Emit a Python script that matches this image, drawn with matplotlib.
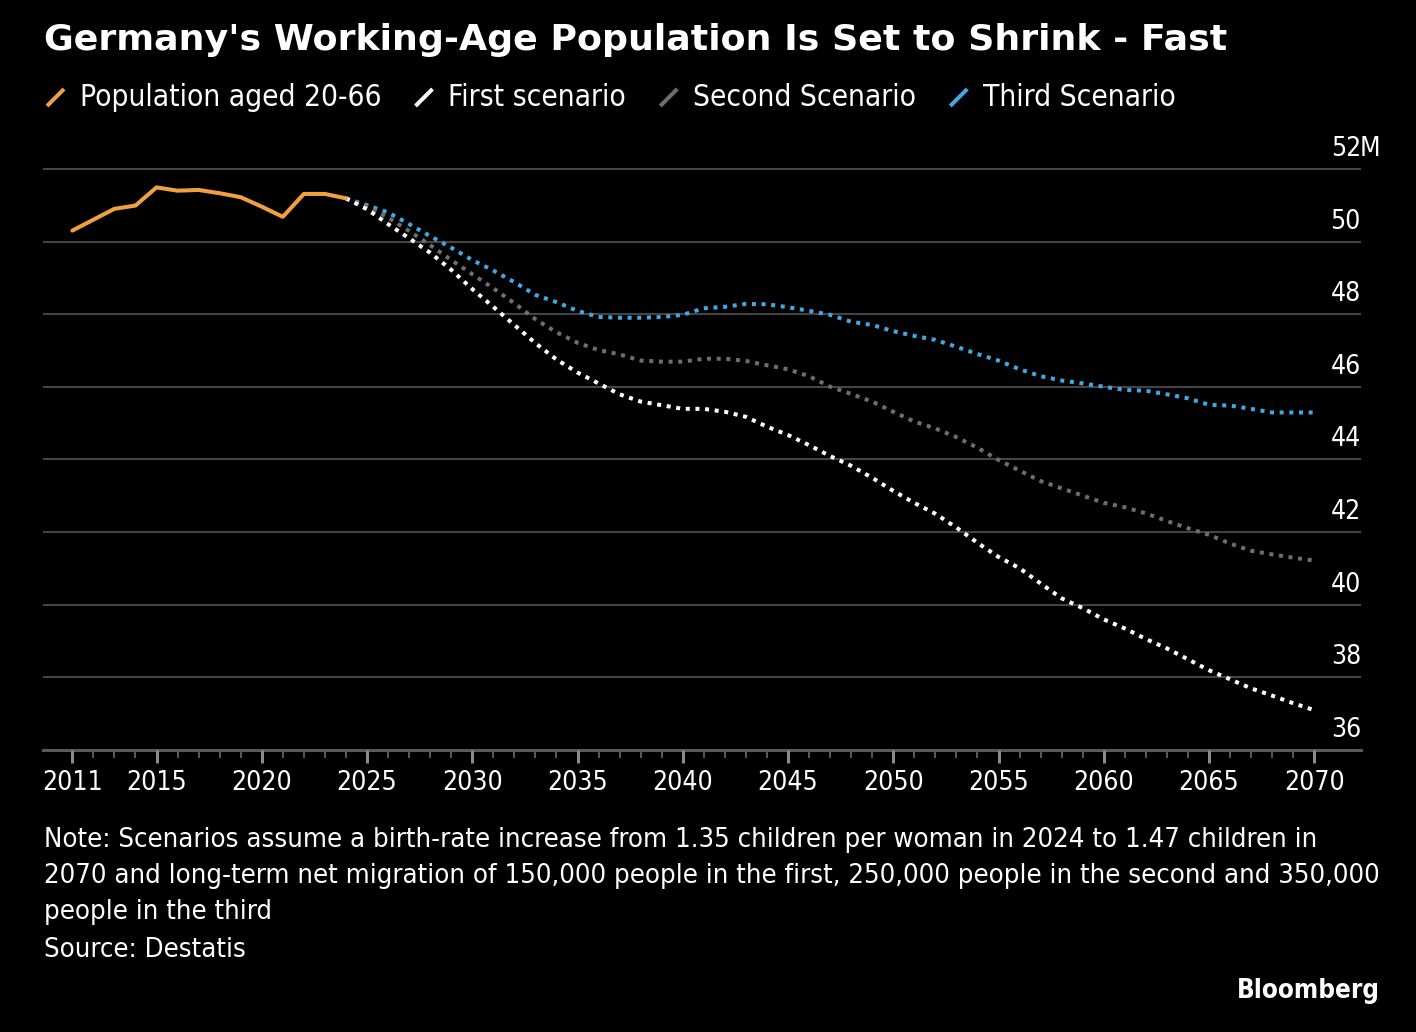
import matplotlib
matplotlib.use("Agg")
import matplotlib.pyplot as plt
import matplotlib.transforms as mtransforms
from matplotlib import font_manager as fm
from matplotlib.lines import Line2D

# ---------------- data ----------------
hist_years = list(range(2011, 2025))
pop_20_66 = [50.30, 50.60, 50.90, 50.99, 51.49, 51.40, 51.42, 51.33, 51.22,
             50.96, 50.68, 51.31, 51.31, 51.19]

scen_years = list(range(2024, 2071))
first_scenario = [51.19, 50.89, 50.48, 50.09, 49.69, 49.22, 48.69, 48.20, 47.70, 47.20,
                  46.75, 46.39, 46.09, 45.79, 45.59, 45.49, 45.39, 45.39, 45.31, 45.17,
                  44.90, 44.67, 44.39, 44.09, 43.82, 43.49, 43.13, 42.80, 42.50, 42.12,
                  41.70, 41.31, 41.00, 40.58, 40.17, 39.90, 39.59, 39.34, 39.05, 38.79,
                  38.49, 38.19, 37.94, 37.69, 37.49, 37.28, 37.09]
second_scenario = [51.19, 50.96, 50.66, 50.29, 49.90, 49.49, 49.10, 48.71, 48.30, 47.86,
                   47.50, 47.21, 47.01, 46.89, 46.72, 46.69, 46.69, 46.77, 46.77, 46.71,
                   46.59, 46.48, 46.29, 46.00, 45.80, 45.59, 45.31, 45.04, 44.85, 44.61,
                   44.32, 43.98, 43.69, 43.40, 43.20, 43.00, 42.80, 42.68, 42.51, 42.30,
                   42.10, 41.92, 41.68, 41.48, 41.38, 41.29, 41.21]
third_scenario = [51.19, 51.00, 50.80, 50.48, 50.15, 49.83, 49.49, 49.20, 48.88, 48.53,
                  48.33, 48.09, 47.92, 47.90, 47.90, 47.92, 47.98, 48.16, 48.20, 48.28,
                  48.27, 48.19, 48.09, 47.98, 47.79, 47.70, 47.53, 47.40, 47.29, 47.10,
                  46.90, 46.72, 46.48, 46.29, 46.17, 46.09, 46.00, 45.91, 45.89, 45.79,
                  45.68, 45.50, 45.48, 45.39, 45.29, 45.29, 45.29]

series_labels = ["Population aged 20-66", "First scenario", "Second Scenario", "Third Scenario"]
x_major_ticks = [2011, 2015, 2020, 2025, 2030, 2035, 2040, 2045, 2050, 2055, 2060, 2065, 2070]
y_ticks = [36, 38, 40, 42, 44, 46, 48, 50, 52]
title = "Germany's Working-Age Population Is Set to Shrink - Fast"
note_lines = [
    "Note: Scenarios assume a birth-rate increase from 1.35 children per woman in 2024 to 1.47 children in",
    "2070 and long-term net migration of 150,000 people in the first, 250,000 people in the second and 350,000",
    "people in the third",
]
source = "Source: Destatis"
brand = "Bloomberg"

# ---------------- style ----------------
ORANGE = "#F2A03D"
WHITE = "#FFFFFF"
GREY = "#6E6E6E"
BLUE = "#42A8E4"
colors = [ORANGE, WHITE, GREY, BLUE]

BODY = "DejaVu Sans"
ST = "condensed"
TITLEF = "DejaVu Sans"

W, H = 1416, 1032
fig = plt.figure(figsize=(W / 100, H / 100), dpi=100, facecolor="black")
def fx(px): return px / W
def fy(py): return 1 - py / H

renderer = fig.canvas.get_renderer()

def fit_size(txt, weight, target_px, stretch=ST, family=BODY, base=20):
    t = fig.text(0, 0, txt, fontsize=base, family=family, weight=weight,
                 fontstretch=stretch)
    w = t.get_window_extent(renderer).width
    t.remove()
    return base * target_px / w

lsize = fit_size(series_labels[0], "normal", 302)
ticksize = 19

ax_left, ax_right, ax_bottom_px = 43, 1361, 749.7
ymin, ymax = 36, 52.3
ppu = 36.3
ax_top_px = ax_bottom_px - (ymax - ymin) * ppu
ax = fig.add_axes([fx(ax_left), fy(ax_bottom_px), fx(ax_right) - fx(ax_left),
                   (ax_bottom_px - ax_top_px) / H])
ax.set_facecolor("black")
ax.set_ylim(ymin, ymax)
px_per_year = 21.05
x2011 = 72.3
ax.set_xlim(2011 - (x2011 - ax_left) / px_per_year,
            2011 + (ax_right - x2011) / px_per_year)

for s in ["top", "left", "right"]:
    ax.spines[s].set_visible(False)
ax.spines["bottom"].set_color("#5A5A5A")
ax.spines["bottom"].set_linewidth(2.2)
ax.spines["bottom"].set_zorder(1)

for v in y_ticks[1:]:
    ax.axhline(v, color="#444444", lw=1.5, zorder=0)
ax.set_yticks([])

ax.set_xticks(x_major_ticks)
ax.set_xticklabels([str(t) for t in x_major_ticks])
ax.set_xticks(list(range(2011, 2071)), minor=True)
ax.tick_params(axis="x", which="major", length=9.4, width=2.2, color="#8A8A8A",
               labelcolor="white", labelsize=ticksize, pad=5)
ax.tick_params(axis="x", which="minor", length=5.8, width=1.4, color="#5A5A5A")
for lab in ax.get_xticklabels():
    lab.set_fontfamily(BODY)
    lab.set_fontstretch(ST)

# y labels above gridlines, right aligned
trans = mtransforms.blended_transform_factory(ax.transAxes, ax.transData)
trans_num = mtransforms.offset_copy(trans, fig=fig, x=0, y=13, units="dots")
trans_m = mtransforms.offset_copy(trans, fig=fig, x=-1, y=13, units="dots")
for v in y_ticks:
    ax.text(1.0, v, str(v), transform=trans_num, ha="right", va="baseline",
            color="white", fontsize=ticksize, family=BODY, fontstretch=ST)
ax.text(1.0, y_ticks[-1], "M", transform=trans_m, ha="left", va="baseline",
        color="white", fontsize=ticksize, family=BODY, fontstretch=ST)

# lines
ax.plot(hist_years, pop_20_66, color=ORANGE, lw=2.9, solid_capstyle="round",
        solid_joinstyle="round", zorder=5)
dot = (0, (1, 1.4))
ax.plot(scen_years, third_scenario, color=BLUE, lw=2.9, linestyle=dot,
        dash_capstyle="butt", zorder=3)
ax.plot(scen_years, second_scenario, color=GREY, lw=2.9, linestyle=dot,
        dash_capstyle="butt", zorder=3)
ax.plot(scen_years, first_scenario, color=WHITE, lw=2.9, linestyle=dot,
        dash_capstyle="butt", zorder=4)

# title
tsize = fit_size(title, "bold", 1184, stretch="normal", family=TITLEF)
fig.text(fx(44), fy(50), title, color="white", fontsize=tsize, family=TITLEF,
         weight="bold", ha="left", va="baseline")

# legend
x = 45
for lab, c in zip(series_labels, colors):
    fig.add_artist(Line2D([fx(x + 2), fx(x + 19)], [fy(106), fy(89)], color=c, lw=2.9,
                          solid_capstyle="butt"))
    x += 35
    t = fig.text(fx(x), fy(106.5), lab, color="white", fontsize=lsize, family=BODY,
                 fontstretch=ST, ha="left", va="baseline")
    w = t.get_window_extent(renderer).width
    x += w + 32

# notes
nsize = fit_size(note_lines[1], "normal", 1334)
for i, line in enumerate(note_lines):
    fig.text(fx(44), fy(847 + 36 * i), line, color="white", fontsize=nsize,
             family=BODY, fontstretch=ST, ha="left", va="baseline")
fig.text(fx(44), fy(957), source, color="white", fontsize=nsize, family=BODY,
         fontstretch=ST, ha="left", va="baseline")
bsize = fit_size(brand, "bold", 143)
fig.text(fx(1380), fy(998), brand, color="white", fontsize=bsize, family=BODY,
         fontstretch=ST, weight="bold", ha="right", va="baseline")

fig.savefig("out.png", dpi=100, facecolor="black")
